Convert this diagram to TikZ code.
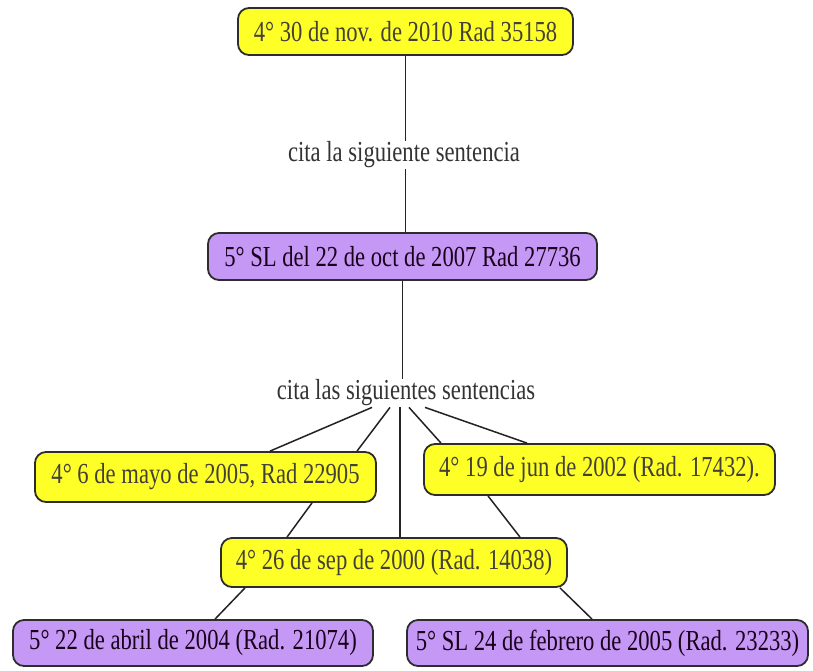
\documentclass[tikz,border=0pt]{standalone}
\usepackage{fontspec}
\setmainfont{Liberation Serif}[FakeStretch=0.78]
\begin{document}
\definecolor{boxyellow}{RGB}{255,255,40}
\definecolor{boxpurple}{RGB}{198,152,246}
\definecolor{boxedge}{RGB}{45,45,45}
\definecolor{linkgray}{RGB}{35,35,35}
\tikzset{
  casebox/.style={draw=boxedge, line width=1.8pt, rounded corners=11pt,
    inner sep=0pt, align=center, font=\fontsize{29}{34}\selectfont},
  courtfour/.style={casebox, fill=boxyellow, text=black!85!yellow},
  courtfive/.style={casebox, fill=boxpurple, text=black!80!violet},
  linklabel/.style={inner sep=1pt, font=\fontsize{29}{34}\selectfont, text=black!80},
  link/.style={draw=linkgray, line width=1.5pt}
}
\begin{tikzpicture}[x=1pt, y=-1pt]
  \useasboundingbox[fill=white] (0,0) rectangle (813,670);

  % decisions
  \node[courtfour, minimum width=335pt, minimum height=47pt] (n1) at (405.5,31.5)
    {4° 30 de nov. de 2010 Rad 35158};
  \node[courtfive, minimum width=389pt, minimum height=47pt] (n2) at (402.5,256.5)
    {5° SL del 22 de oct de 2007 Rad 27736};
  \node[courtfour, minimum width=341pt, minimum height=50pt] (n3) at (205.5,477)
    {4° 6 de mayo de 2005, Rad 22905};
  \node[courtfour, minimum width=351pt, minimum height=51pt] (n4) at (599.5,469.5)
    {4° 19 de jun de 2002 (Rad. 17432).};
  \node[courtfour, minimum width=346pt, minimum height=49pt] (n5) at (394,562.5)
    {4° 26 de sep de 2000 (Rad. 14038)};
  \node[courtfive, minimum width=360pt, minimum height=46pt] (n6) at (193,643)
    {5° 22 de abril de 2004 (Rad. 21074)};
  \node[courtfive, minimum width=401pt, minimum height=46pt] (n7) at (607.5,643)
    {5° SL 24 de febrero de 2005 (Rad. 23233)};

  % link labels
  \node[linklabel] (l1) at (404,155) {cita la siguiente sentencia};
  \node[linklabel] (l2) at (406,393) {cita las siguientes sentencias};

  % citations
  \draw[link] (n1.south) -- (n1.south |- l1.north);
  \draw[link] (l1.south -| n1.south) -- (n2.north -| n1.south);
  \draw[link] (n2.south) -- (n2.south |- l2.north);

  \draw[link] ([xshift=-34pt]l2.south) -- ([xshift=64.5pt]n3.north);
  \draw[link] ([xshift=-16pt]l2.south) -- ([xshift=151.5pt]n3.north);
  \draw[link] ([xshift=-6pt]l2.south) -- ([xshift=6pt]n5.north);
  \draw[link] ([xshift=3pt]l2.south) -- ([xshift=-158.5pt]n4.north);
  \draw[link] ([xshift=19pt]l2.south) -- ([xshift=-72.5pt]n4.north);

  \draw[link] ([xshift=106.5pt]n3.south) -- ([xshift=-107pt]n5.north);
  \draw[link] ([xshift=-111.5pt]n4.south) -- ([xshift=126pt]n5.north);
  \draw[link] ([xshift=-149pt]n5.south) -- ([xshift=22pt]n6.north);
  \draw[link] ([xshift=166pt]n5.south) -- ([xshift=-15.5pt]n7.north);
\end{tikzpicture}
\end{document}
